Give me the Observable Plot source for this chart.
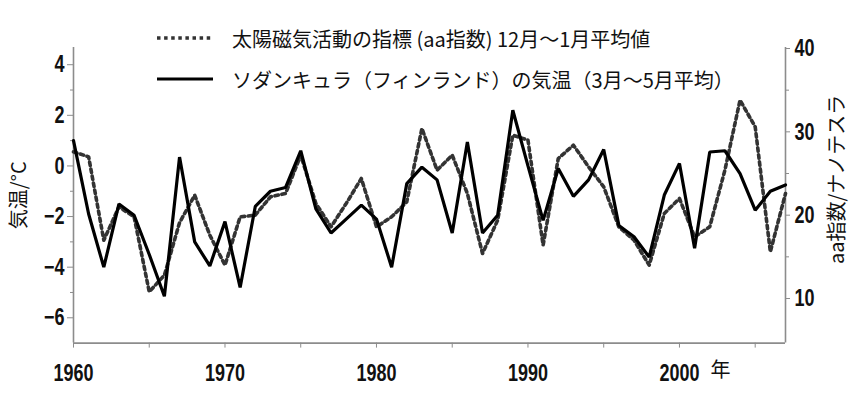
<!DOCTYPE html>
<html>
<head>
<meta charset="utf-8">
<script src="https://cdn.jsdelivr.net/npm/d3@7"></script>
<script src="https://cdn.jsdelivr.net/npm/@observablehq/plot@0.6"></script>
<style>
  body { margin: 0; background: #fff; }
  #wrap { position: relative; width: 851px; height: 398px; overflow: hidden; background: #fff; }
  #wrap svg.plot { position: absolute; left: 0; top: 0; }
  .legrow { position: absolute; left: 157px; height: 26px; display: flex; align-items: center; white-space: nowrap;
            font-family: "Noto Sans CJK JP", "Noto Sans", sans-serif; font-size: 20px; color: #111; }
  .legrow svg { margin-right: 19px; }
</style>
</head>
<body>
<div id="wrap"></div>
<script>
// ---- data ----
const years = [1960,1961,1962,1963,1964,1965,1966,1967,1968,1969,
               1970,1971,1972,1973,1974,1975,1976,1977,1978,1979,
               1980,1981,1982,1983,1984,1985,1986,1987,1988,1989,
               1990,1991,1992,1993,1994,1995,1996,1997,1998,1999,
               2000,2001,2002,2003,2004,2005,2006,2007];
// Sodankylä (Finland) spring temperature, March–May mean (°C)
const temperature = [1.0,-1.9,-4.0,-1.5,-1.95,-3.5,-5.15,0.35,-3.0,-3.95,
                     -2.2,-4.8,-1.6,-1.0,-0.85,0.6,-1.7,-2.65,-2.1,-1.55,
                     -2.1,-4.0,-0.7,-0.05,-0.55,-2.65,0.95,-2.65,-1.95,2.2,
                     0.0,-2.15,-0.1,-1.2,-0.55,0.65,-2.35,-2.8,-3.6,-1.15,
                     0.1,-3.25,0.55,0.6,-0.3,-1.75,-1.0,-0.75];
// aa index, Dec–Jan mean (nT)
const aaIndex = [27.6,27.0,17.0,21.0,19.8,10.8,12.8,19.1,22.4,17.6,
                 14.0,19.8,20.0,22.2,22.6,27.2,21.4,18.6,21.4,24.4,
                 18.6,19.8,21.6,30.4,25.4,27.2,22.6,15.4,19.4,29.6,
                 29.0,16.4,26.8,28.4,25.8,23.4,18.6,17.0,14.0,20.2,
                 22.0,17.4,18.6,25.4,33.8,30.6,15.6,22.6];

const xDomain = [1960, 2007];
const tempDomain = [-7, 4.68];
const aaDomain = [4.65, 40.12];
const xTicks = [1960,1965,1970,1975,1980,1985,1990,1995,2000,2005];
const tempTickLabels = [-6,-4,-2,0,2,4];
const tempMinorTicks = [-5,-3,-1,1,3];
const aaTickLabels = [10,20,30,40];
const aaMinorTicks = [15,25,35];

const legend1 = "太陽磁気活動の指標 (aa指数) 12月～1月平均値";
const legend2 = "ソダンキュラ（フィンランド）の気温（3月～5月平均）";
const yLabelLeft = "気温/°C";
const yLabelRight = "aa指数/ナノテスラ";
const xUnit = "年";

// ---- secondary axis mapping (aa -> temperature axis) ----
const aaToTemp = d3.scaleLinear().domain(aaDomain).range(tempDomain);

const rows = years.map((year, i) => ({year, temp: temperature[i], aaT: aaToTemp(aaIndex[i])}));

const numFont = "'Liberation Sans','Noto Sans CJK JP',sans-serif";
const cjkFont = "'Noto Sans CJK JP',sans-serif";
const axisColor = "#8c8c8c";
const dashColor = "#333";
const dashPattern = "3.5,3.6";

const chart = Plot.plot({
  width: 851,
  height: 398,
  marginLeft: 73,
  marginRight: 66,
  marginTop: 47,
  marginBottom: 55.4,
  x: {domain: xDomain},
  y: {domain: tempDomain},
  style: {fontFamily: numFont, fontSize: "24px", color: "#111", background: "#fff", overflow: "visible"},
  marks: [
    // frame: left, right, bottom
    Plot.ruleX(xDomain, {stroke: axisColor, strokeWidth: 1.6}),
    Plot.ruleY([tempDomain[0]], {stroke: axisColor, strokeWidth: 1.6}),
    // left axis
    Plot.axisY({ticks: tempTickLabels, tickSize: 6, tickPadding: 3, stroke: axisColor,
                label: yLabelLeft, labelAnchor: "center", labelOffset: 62, labelArrow: "none"}),
    Plot.axisY({ticks: tempMinorTicks, tickSize: 3, tickFormat: () => "", stroke: axisColor, label: null}),
    // right axis (aa index)
    Plot.axisY({anchor: "right", ticks: aaTickLabels.map(aaToTemp),
                tickFormat: t => Math.round(aaToTemp.invert(t)),
                tickSize: 4, tickPadding: 5, stroke: axisColor,
                label: yLabelRight, labelAnchor: "center", labelOffset: 58, labelArrow: "none"}),
    Plot.axisY({anchor: "right", ticks: aaMinorTicks.map(aaToTemp), tickSize: 3, tickFormat: () => "",
                stroke: axisColor, label: null}),
    // x axis
    Plot.axisX({ticks: xTicks, tickSize: 5, tickPadding: 16, stroke: axisColor,
                tickFormat: d => (d % 10 === 0 ? String(d) : ""), label: null}),
    Plot.axisX({ticks: [xTicks[8]], tickSize: 0, tickPadding: 20, dx: 41, tickFormat: () => xUnit,
                fontSize: 20, label: null}),
    // series
    Plot.line(rows, {x: "year", y: "aaT", stroke: dashColor, strokeWidth: 3.6, strokeDasharray: dashPattern,
                     strokeLinejoin: "round"}),
    Plot.line(rows, {x: "year", y: "temp", stroke: "#000", strokeWidth: 3.2, strokeLinejoin: "miter"})
  ]
});
chart.classList.add("plot");

// condensed, bold numerals for tick labels (scale about each label's own anchor point)
function condense(t) {
  let tr = t.getAttribute("transform");
  if (!tr) {
    const x = t.getAttribute("x") || 0, y = t.getAttribute("y") || 0;
    t.removeAttribute("x"); t.removeAttribute("y");
    tr = `translate(${x},${y})`;
  }
  t.setAttribute("transform", tr + " scale(0.75,1)");
}
chart.querySelectorAll('g[aria-label$="tick label"]').forEach(g => {
  g.querySelectorAll("text").forEach(t => {
    if (/^[0-9\u2212-]/.test(t.textContent)) {
      t.style.fontWeight = "bold";
      condense(t);
    } else {
      t.style.fontFamily = cjkFont;
    }
  });
});
chart.querySelectorAll('g[aria-label$="axis label"] text').forEach(t => {
  t.style.fontFamily = cjkFont;
  t.style.fontSize = "20px";
  t.style.fontWeight = "normal";
});
const yLabels = chart.querySelectorAll('g[aria-label="y-axis label"] text');
if (yLabels.length > 1) {
  const r = yLabels[yLabels.length - 1];
  r.setAttribute("transform", (r.getAttribute("transform") || "") + " translate(16,0)");
}

const wrap = document.getElementById("wrap");
wrap.appendChild(chart);

function legendRow(text, dashed, top) {
  const row = document.createElement("div");
  row.className = "legrow";
  row.style.top = top + "px";
  const ns = "http://www.w3.org/2000/svg";
  const s = document.createElementNS(ns, "svg");
  s.setAttribute("width", "56");
  s.setAttribute("height", "10");
  const l = document.createElementNS(ns, "line");
  l.setAttribute("x1", "0"); l.setAttribute("x2", "56");
  l.setAttribute("y1", "5"); l.setAttribute("y2", "5");
  l.setAttribute("stroke", dashed ? dashColor : "#000");
  l.setAttribute("stroke-width", dashed ? "3.6" : "3.2");
  if (dashed) l.setAttribute("stroke-dasharray", dashPattern);
  s.appendChild(l);
  row.appendChild(s);
  const t = document.createElement("span");
  t.textContent = text;
  row.appendChild(t);
  wrap.appendChild(row);
}
legendRow(legend1, true, 25);
legendRow(legend2, false, 66);
</script>
</body>
</html>
